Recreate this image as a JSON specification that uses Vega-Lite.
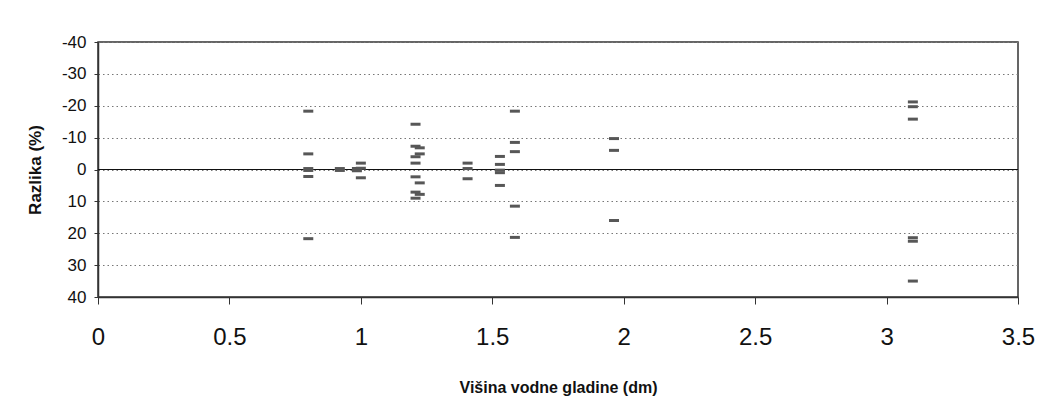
{
  "$schema": "https://vega.github.io/schema/vega-lite/v6.json",
  "width": 920,
  "height": 255,
  "autosize": {"type": "none"},
  "padding": {"left": 98, "top": 42, "right": 44, "bottom": 103},
  "background": "white",
  "config": {
    "font": "Liberation Sans",
    "view": {"stroke": "#333333", "strokeWidth": 1.5}
  },
  "data": {
    "values": [
      {"h": 0.8, "r": -18.3}, {"h": 0.8, "r": -4.9}, {"h": 0.8, "r": -0.3}, {"h": 0.8, "r": 0.3}, {"h": 0.8, "r": 2.2}, {"h": 0.8, "r": 21.7},
      {"h": 0.92, "r": -0.3}, {"h": 0.92, "r": 0.3},
      {"h": 0.985, "r": -0.3}, {"h": 0.985, "r": 0.4},
      {"h": 1.0, "r": -2.0}, {"h": 1.0, "r": -0.4}, {"h": 1.0, "r": 2.6},
      {"h": 1.208, "r": -14.2}, {"h": 1.208, "r": -7.3}, {"h": 1.208, "r": -4.0}, {"h": 1.208, "r": -2.0}, {"h": 1.208, "r": 2.3}, {"h": 1.208, "r": 7.1}, {"h": 1.208, "r": 9.0},
      {"h": 1.224, "r": -6.8}, {"h": 1.224, "r": -4.9}, {"h": 1.224, "r": 4.2}, {"h": 1.224, "r": 7.8},
      {"h": 1.406, "r": -2.0}, {"h": 1.406, "r": -0.3}, {"h": 1.406, "r": 2.9},
      {"h": 1.529, "r": -4.1}, {"h": 1.529, "r": -1.6}, {"h": 1.529, "r": 0.2}, {"h": 1.529, "r": 1.0}, {"h": 1.529, "r": 5.0},
      {"h": 1.586, "r": -18.3}, {"h": 1.586, "r": -8.5}, {"h": 1.586, "r": -5.6}, {"h": 1.586, "r": 11.5}, {"h": 1.586, "r": 21.3},
      {"h": 1.963, "r": -9.7}, {"h": 1.963, "r": -6.0}, {"h": 1.963, "r": 16.0},
      {"h": 3.1, "r": -21.2}, {"h": 3.1, "r": -19.7}, {"h": 3.1, "r": -15.8}, {"h": 3.1, "r": 21.4}, {"h": 3.1, "r": 22.5}, {"h": 3.1, "r": 35.0}
    ]
  },
  "layer": [
    {
      "mark": {"type": "rule", "color": "#111111", "strokeWidth": 1.1},
      "encoding": {
        "y": {
          "datum": 0,
          "type": "quantitative",
          "scale": {"domain": [-40, 40], "reverse": true, "nice": false},
          "axis": {
            "values": [-40, -30, -20, -10, 0, 10, 20, 30, 40],
            "tickCount": 20,
            "labelExpr": "'' + datum.value",
            "labelOverlap": false,
            "labelFlush": false,
            "title": "Razlika (%)",
            "grid": true,
            "gridColor": "#777777",
            "gridDash": [1.5, 3],
            "gridWidth": 1,
            "domainColor": "#333333",
            "domainWidth": 1.5,
            "tickColor": "#333333",
            "tickSize": 4,
            "labelFontSize": 17,
            "labelColor": "#111111",
            "labelPadding": 8,
            "titleFontSize": 17,
            "titleFontWeight": "bold",
            "titleColor": "#111111",
            "titlePadding": 17
          }
        }
      }
    },
    {
      "mark": {"type": "tick", "orient": "horizontal", "size": 10, "thickness": 3, "color": "#575757", "opacity": 1},
      "encoding": {
        "x": {
          "field": "h",
          "type": "quantitative",
          "scale": {"domain": [0, 3.5], "nice": false, "zero": false},
          "axis": {
            "values": [0, 0.5, 1, 1.5, 2, 2.5, 3, 3.5],
            "tickCount": 20,
            "format": "~g",
            "labelOverlap": false,
            "labelFlush": false,
            "title": "Višina vodne gladine (dm)",
            "grid": false,
            "domainColor": "#333333",
            "domainWidth": 1.5,
            "tickColor": "#333333",
            "tickSize": 7,
            "labelFontSize": 24,
            "labelColor": "#111111",
            "labelPadding": 21,
            "titleFontSize": 16,
            "titleFontWeight": "bold",
            "titleColor": "#111111",
            "titlePadding": 30
          }
        },
        "y": {
          "field": "r",
          "type": "quantitative"
        }
      }
    }
  ]
}
